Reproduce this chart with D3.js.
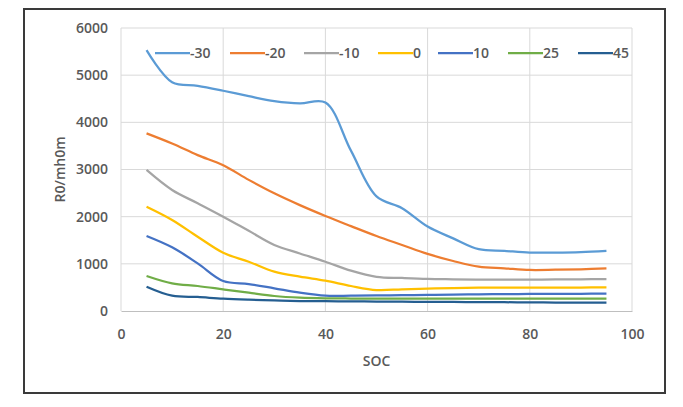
<!DOCTYPE html>
<html>
<head>
<meta charset="utf-8">
<script src="https://cdn.jsdelivr.net/npm/d3@7"></script>
<style>
  body { margin: 0; background: #fff; }
  svg text { font-family: "Open Sans", sans-serif; fill: #595959; font-weight: 600; }
</style>
</head>
<body>
<svg id="chart" width="683" height="407"></svg>
<script>
// SOC values (x)
var soc = [5, 10, 15, 20, 25, 30, 35, 40, 45, 50, 55, 60, 65, 70, 75, 80, 85, 90, 95]

// R0 per temperature
var temps = ['-30', '-20', '-10', '0', '10', '25', '45']
var colors = ['#5B9BD5', '#ED7D31', '#A5A5A5', '#FFC000', '#4472C4', '#70AD47', '#255E91']

var r_m30 = [5530, 4850, 4775, 4670, 4555, 4450, 4400, 4420, 3400, 2430, 2180, 1790, 1540, 1310, 1275, 1240, 1240, 1250, 1275]
var r_m20 = [3765, 3550, 3305, 3090, 2780, 2495, 2245, 2015, 1800, 1590, 1400, 1210, 1060, 940, 905, 870, 875, 885, 905]
var r_m10 = [2990, 2565, 2285, 2000, 1700, 1400, 1220, 1045, 855, 725, 700, 680, 672, 665, 665, 665, 668, 672, 678]
var r_0 = [2210, 1930, 1575, 1235, 1045, 835, 727, 642, 530, 445, 460, 473, 487, 494, 494, 495, 496, 498, 500]
var r_10 = [1590, 1350, 1010, 636, 572, 481, 388, 324, 324, 330, 335, 340, 348, 354, 358, 361, 363, 365, 367]
var r_25 = [742, 586, 530, 459, 388, 318, 282, 268, 265, 265, 264, 264, 263, 263, 262, 262, 262, 261, 261]
var r_45 = [515, 324, 297, 261, 240, 226, 212, 208, 204, 200, 197, 194, 191, 189, 186, 183, 180, 178, 176]

var series = [r_m30, r_m20, r_m10, r_0, r_10, r_25, r_45]

var xTicks = [0, 20, 40, 60, 80, 100]
var yTicks = [0, 1000, 2000, 3000, 4000, 5000, 6000]

var margin = {left: 121, right: 51, top: 28, bottom: 96}
var W = 683, H = 407

var svg = d3.select('#chart')

// outer frame
svg.append('rect')
  .attr('x', 24).attr('y', 9)
  .attr('width', 641).attr('height', 384)
  .attr('fill', 'none')
  .attr('stroke', '#3a3a3a')
  .attr('stroke-width', 2)

var width = W - margin.left - margin.right
var height = H - margin.top - margin.bottom

var x = d3.scaleLinear().domain([0, 100]).range([margin.left, margin.left + width])
var y = d3.scaleLinear().domain([0, 6000]).range([margin.top + height, margin.top])

// gridlines
svg.append('g').selectAll('line.h')
  .data(yTicks.slice(1)).enter().append('line')
    .attr('x1', x(0)).attr('x2', x(100))
    .attr('y1', d => y(d)).attr('y2', d => y(d))
    .attr('stroke', '#d9d9d9').attr('stroke-width', 1)

svg.append('g').selectAll('line.v')
  .data(xTicks).enter().append('line')
    .attr('x1', d => x(d)).attr('x2', d => x(d))
    .attr('y1', y(0)).attr('y2', y(6000))
    .attr('stroke', '#d9d9d9').attr('stroke-width', 1)

// axes
var xAxis = svg.append('g')
  .attr('transform', 'translate(0,' + y(0) + ')')
  .call(d3.axisBottom(x).tickValues(xTicks).tickSize(0).tickPadding(18).tickFormat(d3.format('d')))
xAxis.select('.domain').attr('stroke', '#bfbfbf')
xAxis.selectAll('text').style('font-size', '14px')

var yAxis = svg.append('g')
  .attr('transform', 'translate(' + x(0) + ',0)')
  .call(d3.axisLeft(y).tickValues(yTicks).tickSize(0).tickPadding(13).tickFormat(d3.format('d')))
yAxis.select('.domain').remove()
yAxis.selectAll('text').style('font-size', '14px')

// lines
var line = d3.line()
  .x((d, i) => x(soc[i]))
  .y(d => y(d))
  .curve(d3.curveCatmullRom.alpha(0.5))

svg.append('g').selectAll('path')
  .data(series).enter().append('path')
    .attr('d', d => line(d))
    .attr('fill', 'none')
    .attr('stroke', (d, i) => colors[i])
    .attr('stroke-width', 2.25)

// legend
var legendX = [155, 230, 304, 378, 438, 508, 578]
var leg = svg.append('g').selectAll('g')
  .data(temps).enter().append('g')
    .attr('transform', (d, i) => 'translate(' + legendX[i] + ',53)')
leg.append('line')
  .attr('x1', 0).attr('x2', 35)
  .attr('stroke', (d, i) => colors[i])
  .attr('stroke-width', 2.25)
leg.append('text')
  .attr('x', 35).attr('dy', '0.35em')
  .style('font-size', '14px')
  .text(d => d)

// axis titles
svg.append('text')
  .attr('transform', 'translate(' + x(50) + ',366)')
  .attr('text-anchor', 'middle')
  .style('font-size', '14px')
  .text('SOC')

svg.append('text')
  .attr('transform', 'translate(65,' + y(3000) + ')rotate(-90)')
  .attr('text-anchor', 'middle')
  .style('font-size', '14px')
  .text('R0/mh0m')
</script>
</body>
</html>
